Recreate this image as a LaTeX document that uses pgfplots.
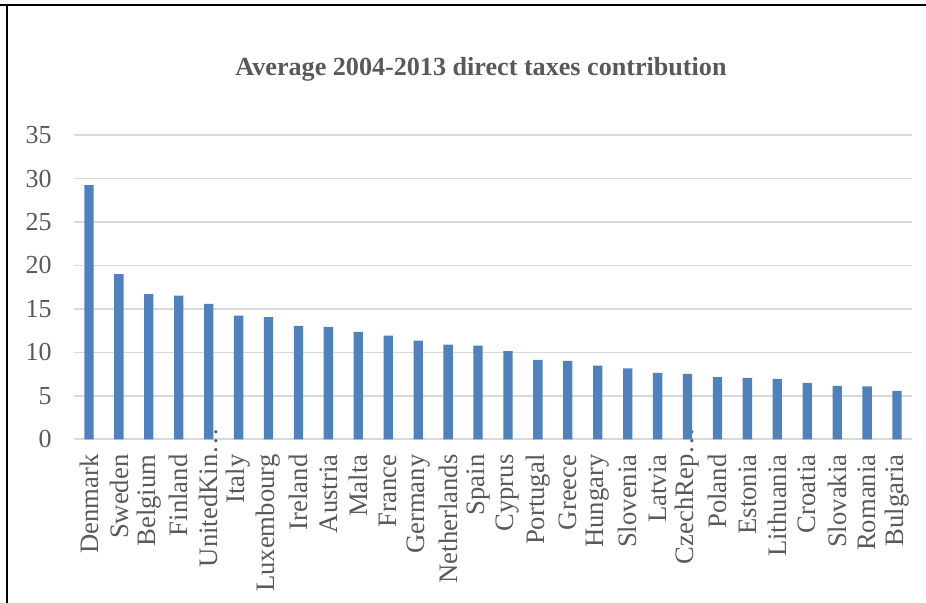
\documentclass[border=0pt]{standalone}
\usepackage{fontspec}
\setmainfont{Liberation Serif}
\usepackage{pgfplots}
\pgfplotsset{compat=1.18}
\definecolor{barblue}{RGB}{79,129,189}
\definecolor{txtgray}{RGB}{89,89,89}
\definecolor{gridgray}{RGB}{217,217,217}
\begin{document}
\begin{tikzpicture}
\useasboundingbox (0pt,0pt) rectangle (694.5pt,452.25pt);
\draw[line width=1.1pt] (0pt,448.5pt) -- (694.5pt,448.5pt);
\draw[line width=1.1pt] (5.25pt,448.9pt) -- (5.25pt,0pt);
\node[anchor=base, font=\fontsize{19.6}{23}\selectfont\bfseries, text=txtgray, inner sep=0pt] at (360.75pt,395.5pt) {Average 2004-2013 direct taxes contribution};
\begin{axis}[at={(55.5pt,122.78pt)}, anchor=south west, scale only axis,
  width=628.5pt, height=228.2pt,
  ybar, bar width=7pt,
  xmin=-0.5, xmax=27.5, ymin=0, ymax=35,
  ytick={0,5,...,35}, xtick=data,
  xticklabels={Denmark,Sweden,Belgium,Finland,UnitedKin\rlap{…},Italy,Luxembourg,Ireland,Austria,Malta,France,Germany,Netherlands,Spain,Cyprus,Portugal,Greece,Hungary,Slovenia,Latvia,CzechRep\rlap{…},Poland,Estonia,Lithuania,Croatia,Slovakia,Romania,Bulgaria},
  axis line style={draw=none},
  major tick length=0pt,
  ymajorgrids, grid style={gridgray, line width=1.2pt},
  tick label style={font=\fontsize{19.5}{23}\selectfont, text=txtgray},
  /pgf/number format/assume math mode=true,
  xticklabel style={rotate=90, anchor=east, inner sep=0pt, font=\fontsize{20}{23}\selectfont},
  xticklabel shift=11.25pt,
  yticklabel style={anchor=east, inner sep=0pt},
  yticklabel shift=16.5pt,
  clip=false,
]
\addplot[fill=barblue, draw=none] coordinates {
(0,29.24) (1,19.0) (2,16.69) (3,16.53) (4,15.58) (5,14.23) (6,14.04) (7,13.04)
(8,12.93) (9,12.35) (10,11.93) (11,11.35) (12,10.89) (13,10.78) (14,10.13)
(15,9.13) (16,9.01) (17,8.48) (18,8.17) (19,7.63) (20,7.52) (21,7.14)
(22,7.06) (23,6.94) (24,6.48) (25,6.14) (26,6.10) (27,5.56)};
\end{axis}
\end{tikzpicture}
\end{document}
